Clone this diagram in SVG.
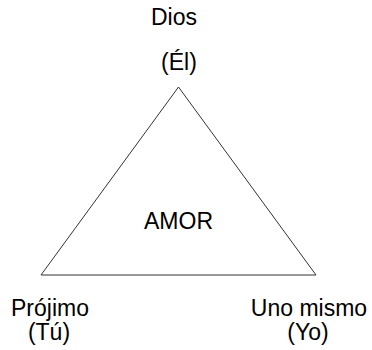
<svg xmlns="http://www.w3.org/2000/svg" width="372" height="350" viewBox="0 0 372 350">
<style>
text{font-family:"Liberation Sans",Arial,sans-serif;font-size:23px;fill:#000;text-anchor:middle}
.edge{fill:none;stroke:#333;stroke-width:1}
</style>
<rect width="372" height="350" fill="#fff"/>
<g id="connectors">
<polygon class="edge" points="178.5,87 41,275 316,275"/>
</g>
<g id="node-dios">
<text x="174" y="25">Dios</text>
<text x="179" y="70">(Él)</text>
</g>
<g id="node-amor">
<text x="178.5" y="229">AMOR</text>
</g>
<g id="node-projimo">
<text x="50" y="316">Prójimo</text>
<text x="49" y="340">(Tú)</text>
</g>
<g id="node-unomismo">
<text x="309" y="316">Uno mismo</text>
<text x="308" y="340">(Yo)</text>
</g>
</svg>
